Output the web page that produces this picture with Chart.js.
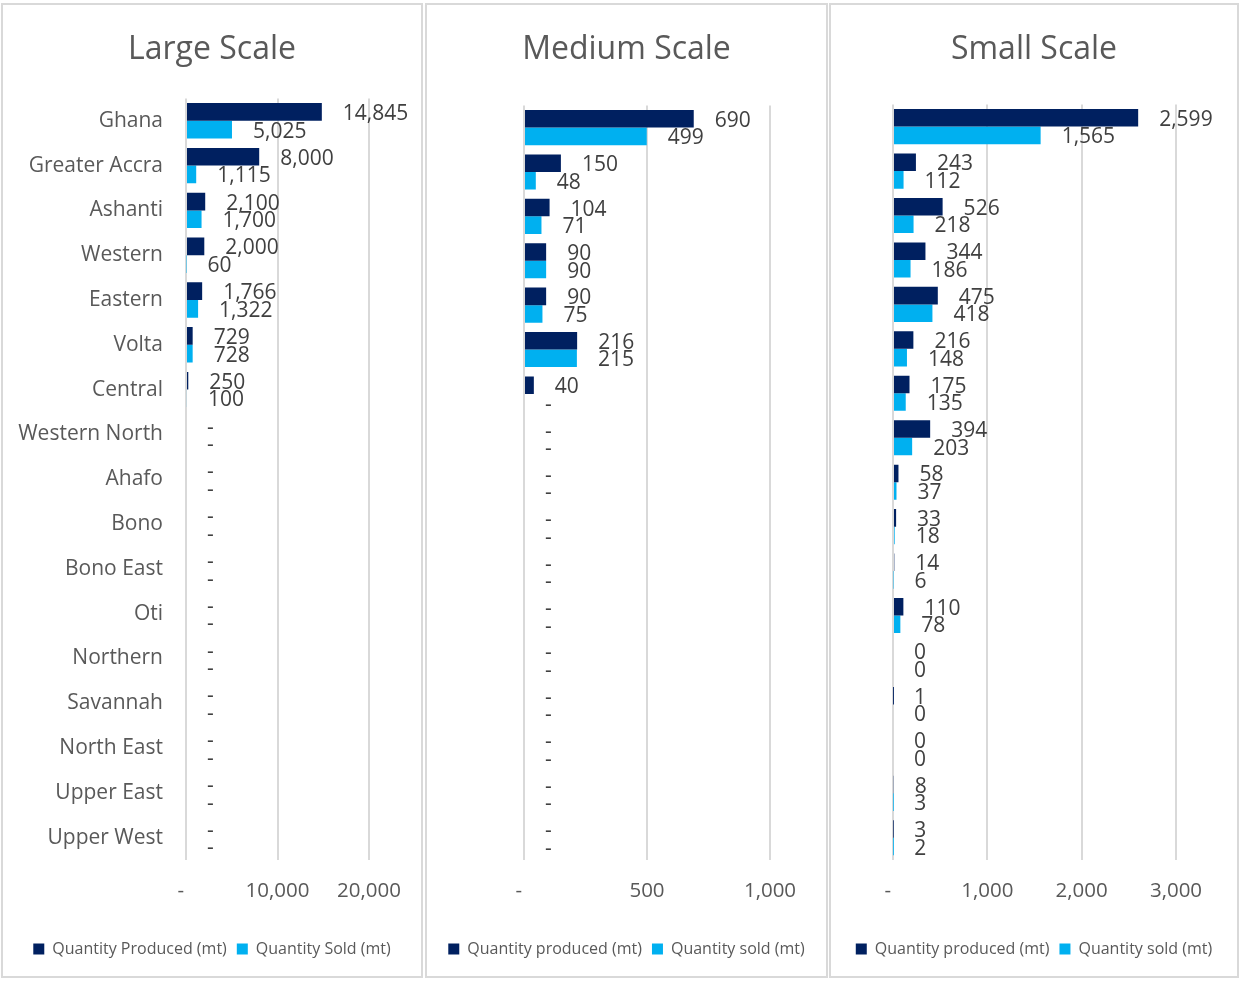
<!DOCTYPE html>
<html>
<head>
<meta charset="utf-8">
<script src="https://cdn.jsdelivr.net/npm/chart.js@4.4.1/dist/chart.umd.min.js"></script>
<style>
  html, body { margin: 0; padding: 0; background: #fff; }
  body { width: 1240px; height: 983px; position: relative; overflow: hidden; }
  .panel { position: absolute; top: 3px; height: 975px; border: 2px solid #d9d9d9; box-sizing: border-box; background: #fff; }
  .panel canvas { display: block; }
</style>
</head>
<body>
<div class="panel" id="p-large" style="left:1px;width:422px"><canvas id="c-large"></canvas></div>
<div class="panel" id="p-medium" style="left:425px;width:403px"><canvas id="c-medium"></canvas></div>
<div class="panel" id="p-small" style="left:829px;width:410px"><canvas id="c-small"></canvas></div>
<script>
// ——— DATA ———
const regions = ['Ghana', 'Greater Accra', 'Ashanti', 'Western', 'Eastern', 'Volta', 'Central',
  'Western North', 'Ahafo', 'Bono', 'Bono East', 'Oti', 'Northern', 'Savannah', 'North East',
  'Upper East', 'Upper West'];

const largeProduced = [14845, 8000, 2100, 2000, 1766, 729, 250, 0, 0, 0, 0, 0, 0, 0, 0, 0, 0];
const largeSold     = [5025, 1115, 1700, 60, 1322, 728, 100, 0, 0, 0, 0, 0, 0, 0, 0, 0, 0];

const mediumProduced = [690, 150, 104, 90, 90, 216, 40, 0, 0, 0, 0, 0, 0, 0, 0, 0, 0];
const mediumSold     = [499, 48, 71, 90, 75, 215, 0, 0, 0, 0, 0, 0, 0, 0, 0, 0, 0];

const smallProduced = [2599, 243, 526, 344, 475, 216, 175, 394, 58, 33, 14, 110, 0, 1, 0, 8, 3];
const smallSold     = [1565, 112, 218, 186, 418, 148, 135, 203, 37, 18, 6, 78, 0, 0, 0, 3, 2];

const largeTicks = [0, 10000, 20000];
const mediumTicks = [0, 500, 1000];
const smallTicks = [0, 1000, 2000, 3000];

// ——— STYLE ———
const FONT = "'Open Sans', sans-serif";
const DARK = '#002060';
const LIGHT = '#00B0F0';
const GREY = '#595959';
const GRID = '#d9d9d9';

const fmt = v => v.toLocaleString('en-US');
const dashZero = v => (v === 0 ? '-' : fmt(v));
// accounting style: zero tick is a dash padded on the right
const tickFmt = v => (v === 0 ? '-  ' : fmt(v));

// value labels drawn just past the end of each bar
const barLabels = {
  id: 'barLabels',
  afterDatasetsDraw(chart, args, opts) {
    const ctx = chart.ctx;
    ctx.save();
    ctx.font = `21px ${FONT}`;
    ctx.fillStyle = '#404040';
    ctx.textAlign = 'left';
    ctx.textBaseline = 'middle';
    chart.data.datasets.forEach((ds, i) => {
      chart.getDatasetMeta(i).data.forEach((bar, j) => {
        ctx.fillText(opts.format(ds.data[j]), bar.x + 21, bar.y + 2);
      });
    });
    ctx.restore();
  }
};

function buildPanel(canvasId, cfg) {
  const el = document.getElementById(canvasId);
  return new Chart(el, {
    type: 'bar',
    data: {
      labels: regions,
      datasets: [
        { label: cfg.legend[0], data: cfg.produced, backgroundColor: DARK, borderWidth: 0 },
        { label: cfg.legend[1], data: cfg.sold, backgroundColor: LIGHT, borderWidth: 0 }
      ]
    },
    options: {
      indexAxis: 'y',
      responsive: true,
      maintainAspectRatio: false,
      animation: false,
      datasets: { bar: { categoryPercentage: 0.79, barPercentage: 1.0 } },
      layout: { padding: { left: 0, right: 0, top: 0, bottom: 9 } },
      plugins: {
        title: {
          display: true, text: cfg.title, color: GREY,
          font: { family: FONT, size: 32, weight: 'normal' },
          padding: { top: 26, bottom: cfg.titleGap }
        },
        legend: {
          position: 'bottom',
          labels: {
            color: GREY, boxWidth: 11, boxHeight: 11, padding: 10,
            font: { family: FONT, size: 16 }
          }
        },
        tooltip: { enabled: false },
        barLabels: { format: cfg.format }
      },
      scales: {
        x: {
          min: 0, max: cfg.ticks[cfg.ticks.length - 1],
          afterBuildTicks: s => { s.ticks = cfg.ticks.map(v => ({ value: v })); },
          afterFit: s => { s.height = 71; },
          grid: { color: GRID, lineWidth: 2, drawTicks: false },
          border: { display: false },
          ticks: {
            padding: 19, color: GREY,
            font: { family: FONT, size: 20.5 },
            callback: tickFmt
          }
        },
        y: {
          afterFit: s => { s.width = cfg.axisWidth; },
          grid: { display: false },
          border: { display: false },
          ticks: {
            display: cfg.showLabels, padding: 15, color: GREY,
            font: { family: FONT, size: 21 }
          }
        },
        // empty strip on the right that leaves room for the value labels
        labelRoom: {
          type: 'category', axis: 'y', position: 'right',
          afterFit: s => { s.width = cfg.padRight; },
          grid: { display: false },
          border: { display: false },
          ticks: { display: false }
        }
      }
    },
    plugins: [barLabels]
  });
}

buildPanel('c-large', {
  title: 'Large Scale', produced: largeProduced, sold: largeSold, ticks: largeTicks,
  legend: ['Quantity Produced (mt)', 'Quantity Sold (mt)'],
  format: dashZero, showLabels: true, axisWidth: 183, padRight: 52, titleGap: 29
});
buildPanel('c-medium', {
  title: 'Medium Scale', produced: mediumProduced, sold: mediumSold, ticks: mediumTicks,
  legend: ['Quantity produced (mt)', 'Quantity sold (mt)'],
  format: dashZero, showLabels: false, axisWidth: 97, padRight: 56, titleGap: 36
});
buildPanel('c-small', {
  title: 'Small Scale', produced: smallProduced, sold: smallSold, ticks: smallTicks,
  legend: ['Quantity produced (mt)', 'Quantity sold (mt)'],
  format: fmt, showLabels: false, axisWidth: 62, padRight: 61, titleGap: 35
});
</script>
</body>
</html>
